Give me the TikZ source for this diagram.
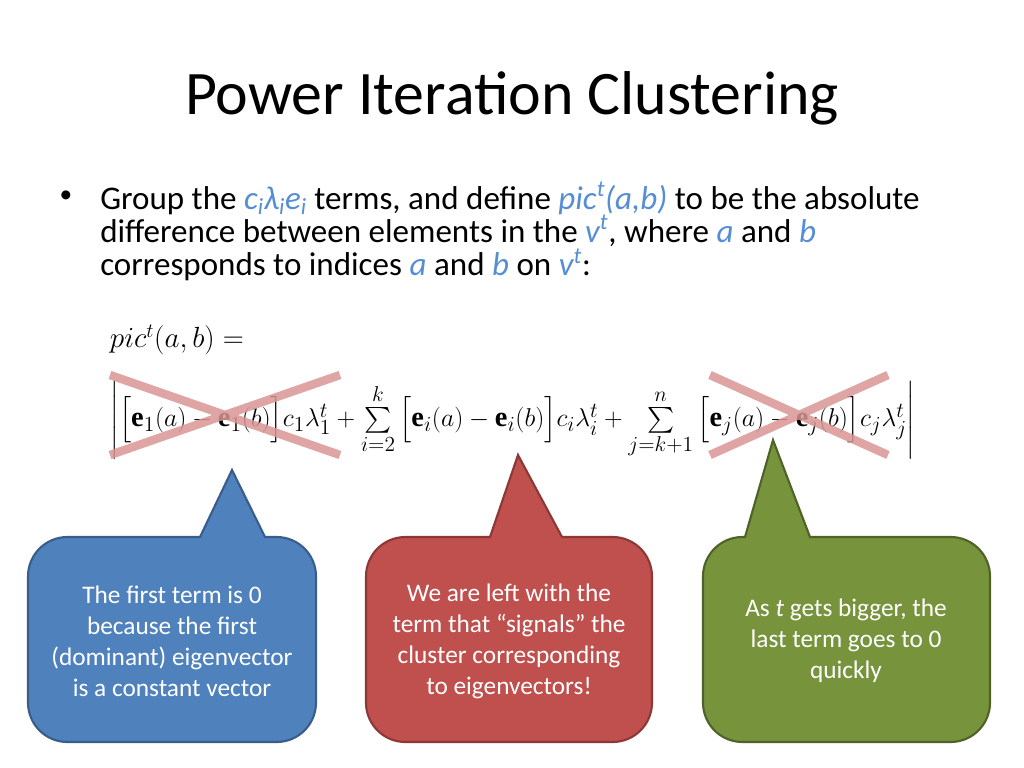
\documentclass[tikz,border=0pt]{standalone}
\usepackage{amsmath}
\usepackage{fontspec}
\setmainfont{Carlito}
\newfontfamily\timesf{Liberation Serif}
\usepackage{tikz}
\usetikzlibrary{positioning}
\definecolor{hl}{HTML}{558ED5}
\definecolor{bluefill}{HTML}{4F81BD}
\definecolor{blueline}{HTML}{385D8A}
\definecolor{redfill}{HTML}{C0504D}
\definecolor{redline}{HTML}{8C3836}
\definecolor{greenfill}{HTML}{77933C}
\definecolor{greenline}{HTML}{4F6228}
\definecolor{crosscol}{HTML}{D99594}
\newcommand{\hlt}[1]{\textcolor{hl}{\textit{#1}}}
\newcommand{\be}{\text{\timesf\bfseries e}}
\tikzset{
	callout/.style={draw, line width=1.5pt},
	calltext/.style={text=white, align=center, font=\fontsize{18}{22}\selectfont},
	crossline/.style={crosscol, line width=6pt, opacity=0.85}
}
\begin{document}
\begin{tikzpicture}[x=0.025cm,y=-0.025cm]
\useasboundingbox (0,0) rectangle (1024,768);

% Title
\node (title) at (512,98) {\fontsize{44}{50}\selectfont Power Iteration Clustering};

% Bullet text
\node[anchor=north west, align=left, inner sep=0pt,
	font=\fontsize{23.5}{23.5}\selectfont] (bullet) at (100,182)
	{Group the \hlt{c\textsubscript{i}λ\textsubscript{i}e\textsubscript{i}} terms, and define \hlt{pic\textsuperscript{t}(a,b)} to be the absolute\\ difference between elements in the \hlt{v\textsuperscript{t}}, where \hlt{a} and \hlt{b}\\ corresponds to indices \hlt{a} and \hlt{b} on \hlt{v\textsuperscript{t}}:};
\node[font=\fontsize{18}{20}\selectfont] (dot) at (66,197) {•};

% Formula
\node[anchor=west, font=\fontsize{21}{24}\selectfont] (lhs) at (105,340) {$pic^{t}(a,b)=$};
\node[font=\fontsize{19}{24}\selectfont, scale=1.06] (rhs) at (513,420)
	{$\left|\Big[\be_1(a)-\be_1(b)\Big]c_1\lambda_1^t+\sum\limits_{i=2}^{k}\Big[\be_i(a)-\be_i(b)\Big]c_i\lambda_i^t+\sum\limits_{j=k+1}^{n}\Big[\be_j(a)-\be_j(b)\Big]c_j\lambda_j^t\right|$};

% Crosses
\draw[crossline] (110,375) -- (340,455) (110,455) -- (340,375);
\draw[crossline] (710,375) -- (888,455) (710,455) -- (888,375);

% Callouts
\draw[callout, draw=blueline, fill=bluefill]
	(232,470) -- (265,537) [rounded corners=28pt] -- (316,537) -- (316,742) -- (28,742) -- (28,537) [sharp corners] -- (200,537) -- cycle;
\draw[callout, draw=redline, fill=redfill]
	(518,455) -- (562,537) [rounded corners=28pt] -- (652,537) -- (652,742) -- (366,742) -- (366,537) [sharp corners] -- (490,537) -- cycle;
\draw[callout, draw=greenline, fill=greenfill]
	(773,440) -- (810,537) [rounded corners=28pt] -- (990,537) -- (990,742) -- (703,742) -- (703,537) [sharp corners] -- (745,537) -- cycle;

\node[calltext] (bluetext) at (172,641) {The first term is 0\\because the first\\(dominant) eigenvector\\is a constant vector};
\node[calltext] (redtext) at (509,641) {We are left with the\\term that “signals” the\\cluster corresponding\\to eigenvectors!};
\node[calltext] (greentext) at (846,641) {As \textit{t} gets bigger, the\\last term goes to 0\\quickly};

\end{tikzpicture}
\end{document}
